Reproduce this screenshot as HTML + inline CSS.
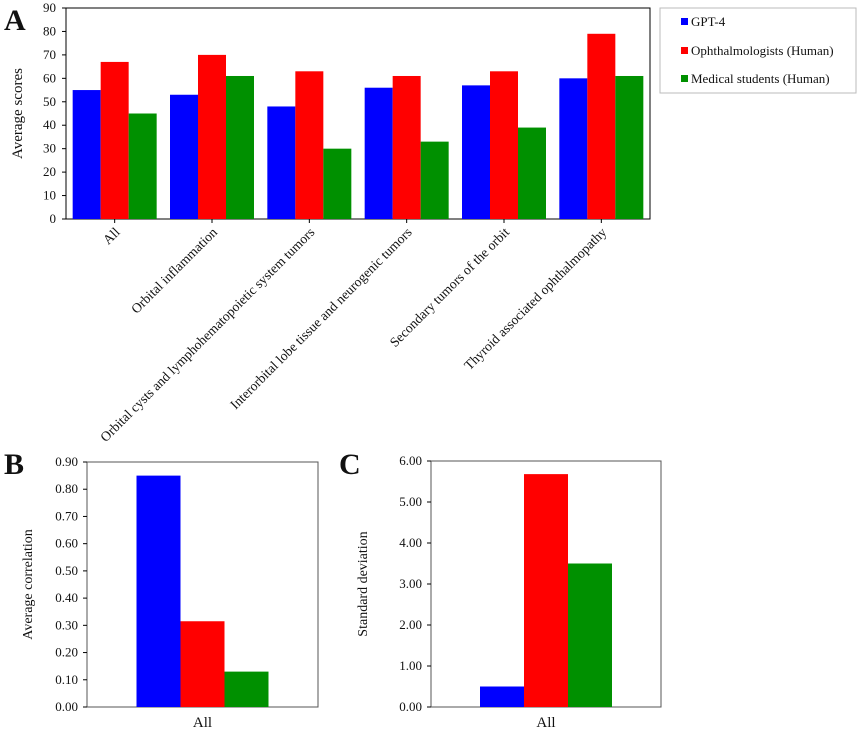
<!DOCTYPE html>
<html><head><meta charset="utf-8"><style>
body{margin:0;background:#fff;}
svg text{font-family:"Liberation Serif",serif;fill:#111;}
</style></head><body>
<svg id="s" width="858" height="732" xmlns="http://www.w3.org/2000/svg">
<text x="4" y="30" font-size="30" font-weight="bold">A</text>
<text x="4" y="474" font-size="30" font-weight="bold">B</text>
<text x="339" y="474" font-size="30" font-weight="bold">C</text>
<g>
<rect x="660" y="8" width="196" height="85" fill="#fff" stroke="#bbb"/>
<rect x="681" y="18" width="7" height="7" fill="#0000ff"/>
<text x="691" y="26" font-size="13">GPT-4</text>
<rect x="681" y="47" width="7" height="7" fill="#ff0000"/>
<text x="691" y="55" font-size="13">Ophthalmologists (Human)</text>
<rect x="681" y="75" width="7" height="7" fill="#009000"/>
<text x="691" y="83" font-size="13">Medical students (Human)</text>
</g>
</svg>
<script>
const categoriesA=["All","Orbital inflammation","Orbital cysts and lymphohematopoietic system tumors","Interorbital lobe tissue and neurogenic tumors","Secondary tumors of the orbit","Thyroid associated ophthalmopathy"];
const gptA=[55,53,48,56,57,60];
const ophA=[67,70,63,61,63,79];
const stuA=[45,61,30,33,39,61];
const ticksA=[0,10,20,30,40,50,60,70,80,90];
const valuesB=[0.85,0.315,0.13];
const ticksB=["0.00","0.10","0.20","0.30","0.40","0.50","0.60","0.70","0.80","0.90"];
const valuesC=[0.5,5.68,3.5];
const ticksC=["0.00","1.00","2.00","3.00","4.00","5.00","6.00"];
const colors=["#0000ff","#ff0000","#009000"];
const svg=document.getElementById('s');
const NS="http://www.w3.org/2000/svg";
function mk(t,a,txt){const e=document.createElementNS(NS,t);for(const k in a)e.setAttribute(k,a[k]);if(txt!==undefined)e.textContent=txt;svg.appendChild(e);return e;}
const ax={l:66,r:650,t:8,b:219,max:90};
const yA=v=>ax.b-(v/ax.max)*(ax.b-ax.t);
const gw=(ax.r-ax.l)/categoriesA.length;
let e;
e=mk('rect',{x:ax.l,y:ax.t,width:ax.r-ax.l,height:ax.b-ax.t,fill:'none',stroke:'#000','stroke-width':1});


ticksA.forEach(v=>{
 e=mk('line',{x1:ax.l-4,x2:ax.l,y1:yA(v),y2:yA(v),stroke:'#000'});
 
 
 e=mk('text',{x:ax.l-10,y:yA(v)+4,'font-size':13,'text-anchor':'end'},String(v));
 
 
});
e=mk('text',{x:0,y:0,'font-size':15,'text-anchor':'middle',transform:`translate(22,${(ax.t+ax.b)/2}) rotate(-90)`},'Average scores');


const seriesA=[gptA,ophA,stuA];
const bw=28;
categoriesA.forEach((c,i)=>{
 const cx=ax.l+gw*(i+0.5);
 seriesA.forEach((s,j)=>{
  e=mk('rect',{x:cx-1.5*bw+j*bw,y:yA(s[i]),width:bw,height:ax.b-yA(s[i]),fill:colors[j]});
  
  
 });
 e=mk('line',{x1:cx,x2:cx,y1:ax.b,y2:ax.b+4,stroke:'#000'});
 
 
 e=mk('text',{x:0,y:0,'font-size':13.6,'text-anchor':'end',transform:`translate(${cx+6},${ax.b+14}) rotate(-45)`},c);
 
 
});
function small(p,vals,ticks,max,title,name,toff){
 const y=v=>p.b-(v/max)*(p.b-p.t);
 e=mk('rect',{x:p.l,y:p.t,width:p.r-p.l,height:p.b-p.t,fill:'none',stroke:'#555'});
 
 
 ticks.forEach(t=>{const v=parseFloat(t);
  e=mk('line',{x1:p.l-4,x2:p.l,y1:y(v),y2:y(v),stroke:'#000'});
  
  
  e=mk('text',{x:p.l-9,y:y(v)+4,'font-size':13,'text-anchor':'end'},t);
  
  
 });
 const cx=(p.l+p.r)/2,w=44;
 vals.forEach((v,j)=>{
  e=mk('rect',{x:cx-1.5*w+j*w,y:y(v),width:w,height:p.b-y(v),fill:colors[j]});
  
  
 });
 e=mk('text',{x:cx,y:p.b+20,'font-size':15,'text-anchor':'middle'},'All');
 
 
 e=mk('text',{x:0,y:0,'font-size':14,'text-anchor':'middle',transform:`translate(${p.l-toff},${(p.t+p.b)/2}) rotate(-90)`},title);
 
 
}
small({l:87,r:318,t:462,b:707},valuesB,ticksB,0.9,'Average correlation','b',55);
small({l:431,r:661,t:461,b:707},valuesC,ticksC,6,'Standard deviation','c',64);
</script>
</body></html>
